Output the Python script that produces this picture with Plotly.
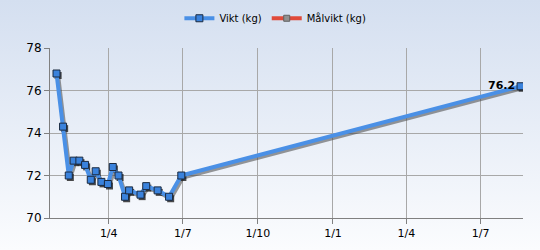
import base64
import pandas as pd
import plotly.graph_objects as go

# ---- data ----
dates = ["2012-01-28", "2012-02-05", "2012-02-12", "2012-02-18", "2012-02-25",
         "2012-03-03", "2012-03-10", "2012-03-16", "2012-03-23", "2012-03-31",
         "2012-04-06", "2012-04-13", "2012-04-21", "2012-04-26", "2012-05-10",
         "2012-05-17", "2012-05-31", "2012-06-14", "2012-06-29", "2013-08-19"]
weights = [76.8, 74.3, 72.0, 72.7, 72.7,
           72.5, 71.8, 72.2, 71.7, 71.6,
           72.4, 72.0, 71.0, 71.3, 71.1,
           71.5, 71.3, 71.0, 72.0, 76.2]
tick_dates = ["2012-04-01", "2012-07-01", "2012-10-01", "2013-01-01", "2013-04-01", "2013-07-01"]
tick_labels = ["1/4", "1/7", "1/10", "1/1", "1/4", "1/7"]
y_ticks = [70, 72, 74, 76, 78]
series_names = ["Vikt (kg)", "Målvikt (kg)"]

x = pd.to_datetime(dates)
x_range = ["2012-01-20", "2013-08-22"]

W, H = 540, 250
ML, MR, MT, MB = 50, 17, 48, 32
PW, PH = W - ML - MR, H - MT - MB

# shadow offsets (~1.5px right, 2px down)
days_span = (pd.Timestamp(x_range[1]) - pd.Timestamp(x_range[0])).days
dx = pd.Timedelta(days=1.6 * days_span / PW)
dy = 2.0 * 8 / PH

fig = go.Figure()

# shadow
fig.add_trace(go.Scatter(
    x=x + dx, y=[v - dy for v in weights], mode="lines+markers",
    line=dict(color="rgba(70,70,70,0.55)", width=4),
    marker=dict(symbol="square", size=7, color="rgba(30,30,30,0.8)", line=dict(width=0)),
    showlegend=False, hoverinfo="skip"))

labels = ["" for _ in weights[:-1]] + [f"<b>{weights[-1]:.1f}</b>"]
fig.add_trace(go.Scatter(
    x=x, y=weights, mode="lines+markers+text", name=series_names[0],
    line=dict(color="#4a90e6", width=4),
    marker=dict(symbol="square", size=7, color="#3a82dc", line=dict(color="#1a2a40", width=1)),
    text=labels, textposition="middle left",
    textfont=dict(family="DejaVu Sans", size=11, color="#000000")))

fig.add_trace(go.Scatter(
    x=[None], y=[None], mode="lines+markers", name=series_names[1],
    line=dict(color="#e04a3a", width=4),
    marker=dict(symbol="square", size=6, color="#909090", line=dict(color="#606060", width=1))))

# gradient background image
svg = ('<svg xmlns="http://www.w3.org/2000/svg" width="540" height="250" preserveAspectRatio="none">'
       '<defs><linearGradient id="g" x1="0" y1="0" x2="0" y2="1">'
       '<stop offset="0" stop-color="#d4dff0"/><stop offset="1" stop-color="#fbfcfe"/>'
       '</linearGradient></defs><rect width="540" height="250" fill="url(#g)"/></svg>')
src = "data:image/svg+xml;base64," + base64.b64encode(svg.encode()).decode()

fig.update_layout(
    width=W, height=H,
    margin=dict(l=ML, r=MR, t=MT, b=MB, autoexpand=False),
    paper_bgcolor="#ffffff", plot_bgcolor="rgba(0,0,0,0)",
    font=dict(family="DejaVu Sans", size=11, color="#000000"),
    images=[dict(source=src, xref="paper", yref="paper",
                 x=-ML / PW, y=1 + MT / PH, sizex=W / PW, sizey=H / PH,
                 xanchor="left", yanchor="top", sizing="stretch", layer="below")],
    legend=dict(orientation="h", xref="container", yref="container",
                x=0.51, xanchor="center", y=0.985, yanchor="top",
                bgcolor="rgba(0,0,0,0)", font=dict(size=10),
                itemwidth=30, tracegroupgap=0),
    xaxis=dict(type="date", range=x_range, tickvals=pd.to_datetime(tick_dates),
               ticktext=tick_labels, showgrid=True, gridcolor="#a8a8a8", gridwidth=1,
               showline=True, linecolor="#808080", linewidth=1,
               ticks="outside", ticklen=5, tickcolor="#808080", zeroline=False),
    yaxis=dict(range=[70, 78], tickvals=y_ticks, showgrid=True, gridcolor="#a8a8a8",
               gridwidth=1, showline=True, linecolor="#808080", linewidth=1,
               ticks="outside", ticklen=5, tickcolor="#808080", zeroline=False,
               tickfont=dict(size=12)),
)

fig.write_html("out.html")
